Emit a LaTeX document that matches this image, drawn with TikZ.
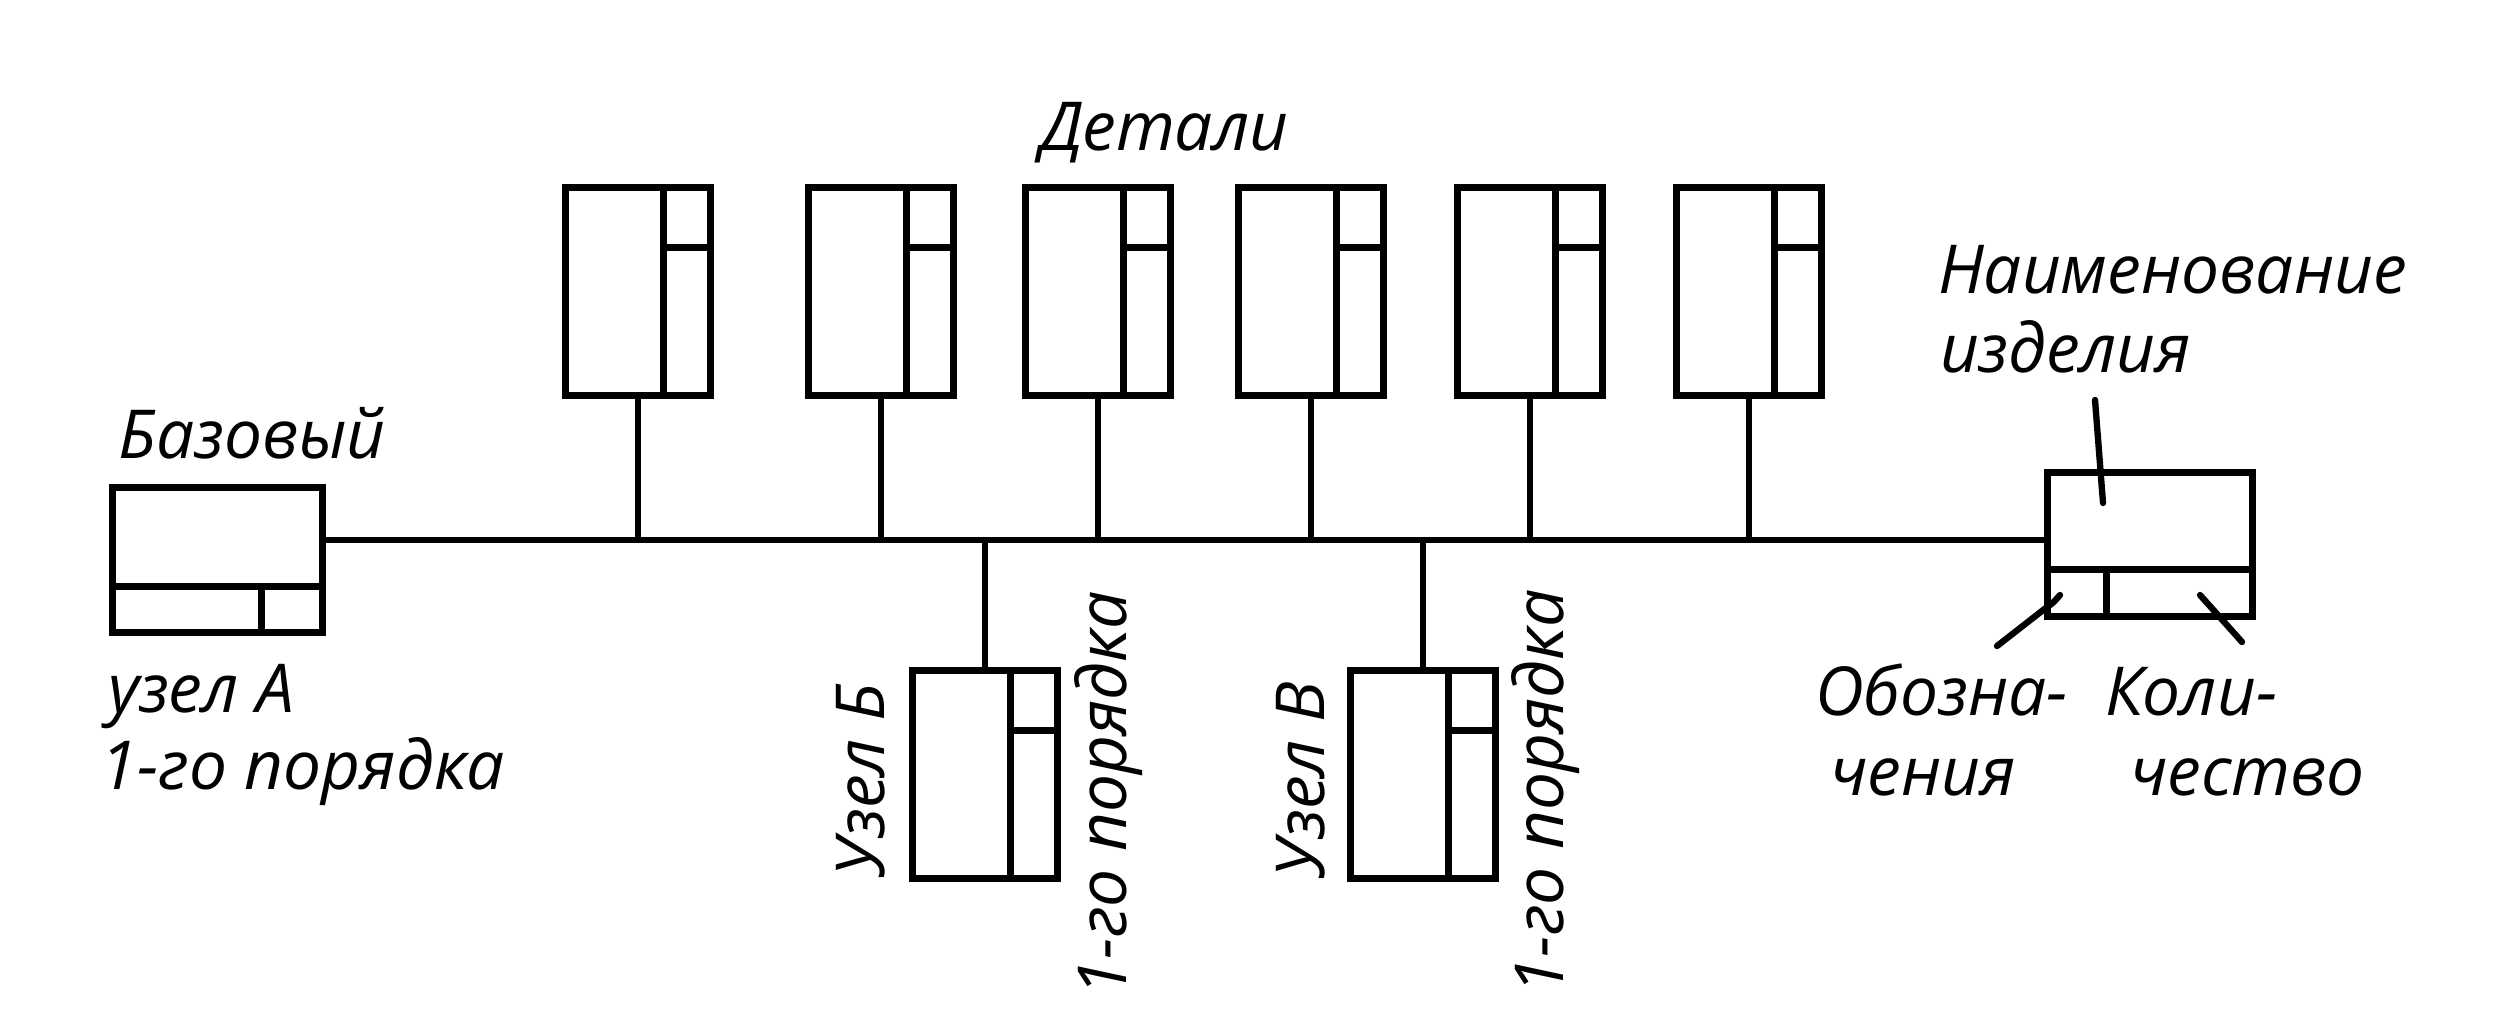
\documentclass[tikz,border=0pt]{standalone}
\usepackage{fontspec}
\setmainfont{Open Sans}
\usetikzlibrary{calc}
\begin{document}
\begin{tikzpicture}[x=0.01cm,y=-0.01cm,
  box/.style={draw, line width=2pt, inner sep=0pt, outer sep=0pt, rectangle},
  det/.style={box, minimum width=1.45cm, minimum height=2.07cm},
  divline/.style={line width=2pt},
  conn/.style={line width=1.6pt},
  leader/.style={line width=1.8pt, line cap=round},
  lbl/.style={font=\fontsize{19.2}{23}\selectfont\itshape, inner sep=0pt, outer sep=0pt}]
\useasboundingbox (0,0) rectangle (2497,1015);

% detail boxes
\node[det] (d1) at (638,291.5) {};
\node[det] (d2) at (881,291.5) {};
\node[det] (d3) at (1098,291.5) {};
\node[det] (d4) at (1311,291.5) {};
\node[det] (d5) at (1530,291.5) {};
\node[det] (d6) at (1749,291.5) {};
% sub-assemblies
\node[det] (ub) at (985,774.5) {};
\node[det] (uv) at (1423,774.5) {};
% base and product boxes
\node[box, minimum width=2.09cm, minimum height=1.44cm] (base) at (217.5,560) {};
\node[box, minimum width=2.04cm, minimum height=1.43cm] (prod) at (2150,544.5) {};

% inner dividers
\foreach \n in {d1,d2,d3,d4,d5,d6,ub,uv}{
  \draw[divline] ($(\n.north west)+(98,0)$) -- ($(\n.south west)+(98,0)$);
  \draw[divline] ($(\n.north west)+(98,60)$) -- ($(\n.north east)+(0,60)$);
}
\draw[divline] ($(base.north west)+(0,99)$) -- ($(base.north east)+(0,99)$);
\draw[divline] ($(base.north west)+(149,99)$) -- ($(base.south west)+(149,0)$);
\draw[divline] ($(prod.north west)+(0,97)$) -- ($(prod.north east)+(0,97)$);
\draw[divline] ($(prod.north west)+(59,97)$) -- ($(prod.south west)+(59,0)$);

% bus
\coordinate (busL) at ($(base.north east)+(0,52)$);
\draw[conn] (busL) -- (busL -| prod.west);
\foreach \n in {d1,d2,d3,d4,d5,d6}{
  \draw[conn] (\n.south) -- (\n.south |- busL);
}
\draw[conn] (ub.north) -- (ub.north |- busL);
\draw[conn] (uv.north) -- (uv.north |- busL);

% leaders
\coordinate (nA) at (2095,400);
\coordinate (nB) at (2103,503);
\draw[leader] (nA) -- (nB);
\coordinate (oA) at (1997,646);
\coordinate (oB) at (2047,607);
\coordinate (oC) at (2060,595);
\draw[leader] (oA) -- (oB) .. controls (2053,603) .. (oC);
\coordinate (kA) at (2200,595);
\coordinate (kB) at (2242,642);
\draw[leader] (kA) -- (kB);

% labels
\node[lbl, anchor=base west] (tdet) at (1040,150) {Детали};
\node[lbl, anchor=base west] (tnaim) at (1938,293) {Наименование};
\node[lbl, anchor=base west] (tizd) at (1940,372) {изделия};
\node[lbl, anchor=base west] (tbaz) at (118,458) {Базовый};
\node[lbl, anchor=base west] (tuzA) at (108,712) {узел А};
\node[lbl, anchor=base west] (tpor) at (100,789) {1-го порядка};
\node[lbl, anchor=base west] (tob1) at (1815,715) {Обозна-};
\node[lbl, anchor=base west] (tob2) at (1830,795) {чения};
\node[lbl, anchor=base west] (tko1) at (2105,715) {Коли-};
\node[lbl, anchor=base west] (tko2) at (2130,795) {чество};
\node[lbl, rotate=90, anchor=base] (tub) at (884,780) {Узел Б};
\node[lbl, rotate=90, anchor=base] (tubp) at (1126,794) {1-го порядка};
\node[lbl, rotate=90, anchor=base] (tuv) at (1324,780) {Узел В};
\node[lbl, rotate=90, anchor=base] (tuvp) at (1563,792) {1-го порядка};
\end{tikzpicture}
\end{document}
